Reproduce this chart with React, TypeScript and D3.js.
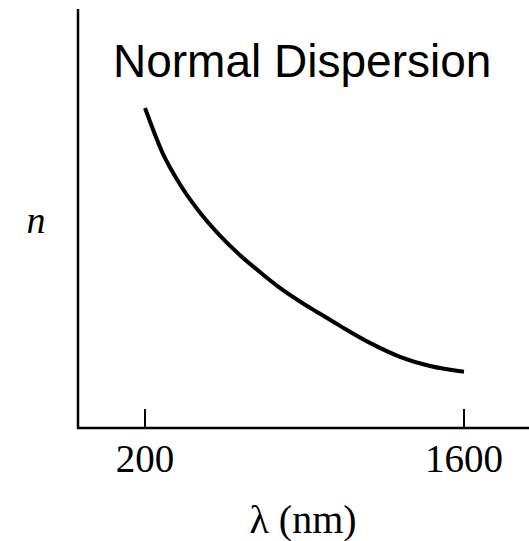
import React from "react";
import * as d3 from "d3";

// wavelength (nm) and refractive index
const lambda = [200, 279, 354, 441, 529, 617, 705, 792, 880, 955, 1056, 1187, 1319, 1451, 1600];
const nValues = [
  1.5222, 1.5047, 1.493, 1.4823, 1.4735, 1.466, 1.4595, 1.4535, 1.4483, 1.4443, 1.439, 1.4325,
  1.4272, 1.4237, 1.4215,
];
const tickValues = [200, 1600];
const title = "Normal Dispersion";

const App = () => {
  const width = 529;
  const height = 541;

  // x scale: 200 -> 145px, 1600 -> 464px
  const x = d3.scaleLinear().domain([200, 1600]).range([145, 464]);
  // y scale: no ticks shown, arbitrary n range
  const y = d3.scaleLinear().domain([1.4, 1.56]).range([428, 9]);

  const data = lambda.map((l, i) => ({ l, n: nValues[i] }));

  const line = d3
    .line<{ l: number; n: number }>()
    .x((d) => x(d.l))
    .y((d) => y(d.n))
    .curve(d3.curveMonotoneX);

  const serif = "'Liberation Serif', 'Times New Roman', serif";

  return (
    <svg
      width={width}
      height={height}
      style={{ position: "absolute", left: 0, top: 0, background: "#fff" }}
    >
      {/* y axis */}
      <line x1={78} x2={78} y1={y.range()[1]} y2={y.range()[0] + 1} stroke="#000" strokeWidth={2.5} />
      {/* x axis */}
      <line x1={77} x2={width} y1={y.range()[0]} y2={y.range()[0]} stroke="#000" strokeWidth={2.5} />

      {tickValues.map((t) => (
        <g key={t} transform={`translate(${x(t)},0)`}>
          <line y1={409} y2={428} stroke="#000" strokeWidth={2} />
          <text
            y={472}
            textAnchor="middle"
            fontFamily={serif}
            fontSize={39}
            fill="#000"
          >
            {t}
          </text>
        </g>
      ))}

      <path d={line(data) || ""} fill="none" stroke="#000" strokeWidth={4} />

      <text x={113} y={77} fontFamily="'Liberation Sans', Arial, sans-serif" fontSize={46} fill="#000">
        {title}
      </text>

      <text x={36} y={233} textAnchor="middle" fontFamily={serif} fontStyle="italic" fontSize={38} fill="#000">
        n
      </text>

      <text x={303} y={533} textAnchor="middle" fontFamily={serif} fontSize={40} fill="#000">
        λ (nm)
      </text>
    </svg>
  );
};

export default App;
